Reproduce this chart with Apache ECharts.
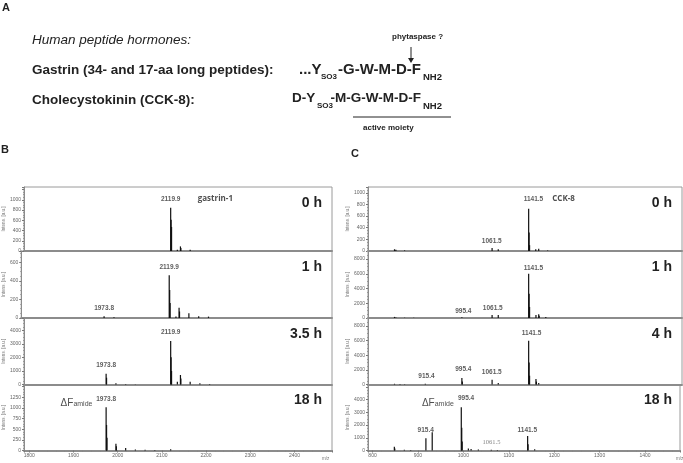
<!DOCTYPE html>
<html>
<head>
<meta charset="utf-8">
<script src="https://cdn.jsdelivr.net/npm/echarts@6/dist/echarts.min.js"></script>
<style>
html, body { margin: 0; background: #fff; }
#main { width: 683px; height: 463px; }
</style>
</head>
<body>
<div id="main"></div>
<script>
// peaks: [m/z, intensity a.u.]
const gastrin0h = [[2119.9, 843], [2120.9, 610], [2121.9, 470], [2135.0, 25], [2142.0, 90], [2143.0, 60], [2164.0, 22]];
const gastrin1h = [[1973.8, 20], [1996.0, 8], [2119.9, 460], [2120.9, 300], [2121.9, 160], [2135.0, 15], [2142.0, 110], [2143.0, 70], [2164.0, 50], [2186.0, 20], [2208.0, 15]];
const gastrin35h = [[1973.8, 800], [1974.8, 500], [1996.0, 100], [2018.0, 40], [2040.0, 20], [2119.9, 3200], [2120.9, 2000], [2121.9, 1000], [2135.0, 200], [2142.0, 700], [2143.0, 450], [2164.0, 200], [2186.0, 90], [2208.0, 40]];
const gastrin18h = [[1973.8, 1015], [1974.8, 600], [1975.8, 300], [1996.0, 160], [1997.0, 100], [2018.0, 60], [2040.0, 25], [2062.0, 15], [2084.0, 10], [2119.9, 30]];

const cck0h = [[848.0, 30], [851.0, 20], [870.0, 10], [1061.5, 50], [1075.0, 30], [1141.5, 727], [1142.5, 320], [1143.5, 100], [1157.0, 30], [1163.5, 40], [1183.0, 10]];
const cck1h = [[848.0, 150], [851.0, 80], [870.0, 40], [890.0, 30], [995.4, 100], [1061.5, 400], [1075.0, 400], [1141.5, 6000], [1142.5, 3300], [1143.5, 1500], [1157.5, 400], [1163.5, 500], [1164.5, 300], [1179.0, 150]];
const cck4h = [[848.0, 100], [860.0, 60], [870.0, 50], [915.4, 100], [995.4, 900], [996.4, 400], [1061.5, 650], [1075.0, 200], [1141.5, 6000], [1142.5, 3000], [1143.5, 1200], [1157.5, 750], [1158.5, 400], [1163.5, 200]];
const cck18h = [[848.0, 300], [849.0, 150], [870.0, 50], [884.0, 40], [917.5, 960], [931.4, 1435], [995.4, 3400], [996.4, 1800], [997.4, 700], [1011.0, 150], [1017.0, 120], [1033.0, 80], [1061.5, 60], [1075.0, 40], [1141.5, 1142], [1142.5, 500], [1157.0, 100]];

// peak annotations: [text, m/z, intensity level of the label]
const gastrin0hNotes = [['2119.9', 2119.9, 1016]];
const gastrin1hNotes = [['2119.9', 2119.9, 551], ['1973.8', 1973.8, 107]];
const gastrin35hNotes = [['2119.9', 2119.9, 3817], ['1973.8', 1973.8, 1437]];
const gastrin18hNotes = [['1973.8', 1973.8, 1203]];
const cck0hNotes = [['1141.5', 1152, 893], ['1061.5', 1060.7, 172]];
const cck1hNotes = [['1141.5', 1152, 6750], ['1061.5', 1063, 1318], ['995.4', 998.5, 856]];
const cck4hNotes = [['1141.5', 1148, 7000], ['995.4', 998.5, 2080], ['1061.5', 1060.7, 1750], ['915.4', 918, 1067]];
const cck18hNotes = [['995.4', 1006, 4130], ['915.4', 917, 1567], ['1141.5', 1140.7, 1567]];

const gastrinTimes = ['0 h', '1 h', '3.5 h', '18 h'];
const cckTimes = ['0 h', '1 h', '4 h', '18 h'];
const gastrinYMax = [1250, 720, 4900, 1550];
const gastrinYStep = [200, 200, 1000, 250];
const gastrinYTopLabel = [1000, 600, 4000, 1250];
const cckYMax = [1100, 9100, 9100, 5200];
const cckYStep = [200, 2000, 2000, 1000];
const cckYTopLabel = [1000, 8000, 8000, 4000];
const gastrinMzRange = [1788, 2485];
const cckMzRange = [790, 1477];

const rowTop = [187, 251, 318, 384.5];
const rowBottom = [251, 318, 384.5, 450.5];

const chart = echarts.init(document.getElementById('main'));

const grids = [], xAxes = [], yAxes = [], series = [], graphics = [];
const clear = 'rgba(0,0,0,0)';

function addPanel(left, width, peaks, notes, yMax, yStep, yTop, mzRange, row, timeText) {
  const i = grids.length;
  const last = row === 3;
  grids.push({
    left: left, top: rowTop[row], width: width, height: rowBottom[row] - rowTop[row],
    show: true, borderColor: '#9a9a9a', borderWidth: 1
  });
  xAxes.push({
    gridIndex: i, type: 'value', min: mzRange[0], max: mzRange[1], splitNumber: 7,
    axisLine: { show: true, onZero: false, lineStyle: { color: '#8c8c8c', width: 2 } },
    axisTick: { show: last, length: 2, lineStyle: { color: '#777' } },
    minorTick: { show: last, splitNumber: 5, length: 1.5, lineStyle: { color: '#888' } },
    axisLabel: {
      show: last, fontSize: 5, color: '#666', margin: 3, fontFamily: 'Liberation Sans',
      formatter: function (v) { return v % 100 === 0 ? String(v) : ''; }
    },
    splitLine: { show: false }
  });
  yAxes.push({
    gridIndex: i, type: 'value', min: 0, max: yMax, interval: yStep,
    axisLine: { show: true, lineStyle: { color: '#8c8c8c' } },
    axisTick: { show: true, length: 2, lineStyle: { color: '#777' } },
    minorTick: { show: true, splitNumber: 4, length: 1, lineStyle: { color: '#999' } },
    axisLabel: {
      fontSize: 5, color: '#666', margin: 3, fontFamily: 'Liberation Sans',
      formatter: function (v) { return v > yTop ? '' : String(v); }
    },
    splitLine: { show: false },
    name: 'Intens. [a.u.]', nameLocation: 'middle', nameGap: 14,
    nameTextStyle: { fontSize: 4.5, color: '#777', fontFamily: 'Liberation Sans' }
  });
  series.push({
    type: 'bar', xAxisIndex: i, yAxisIndex: i, barWidth: 1.2,
    itemStyle: { color: '#111' }, silent: true,
    data: peaks
  });
  series.push({
    type: 'scatter', xAxisIndex: i, yAxisIndex: i, symbolSize: 1,
    itemStyle: { color: clear }, silent: true,
    label: {
      show: true, position: 'inside', fontSize: 6.5, fontWeight: 'bold', color: '#333',
      fontFamily: 'Liberation Sans',
      formatter: function (p) { return p.value[2]; }
    },
    data: notes.map(function (n) { return [n[1], n[2], n[0]]; })
  });
  graphics.push({
    type: 'text', right: 683 - (left + width) + 10, top: rowTop[row] + 9,
    style: { text: timeText, font: 'bold 14px "Liberation Sans"', fill: '#222' }
  });
  return i;
}

for (let r = 0; r < 4; r++) {
  addPanel(19, 313, [gastrin0h, gastrin1h, gastrin35h, gastrin18h][r],
    [gastrin0hNotes, gastrin1hNotes, gastrin35hNotes, gastrin18hNotes][r],
    gastrinYMax[r], gastrinYStep[r], gastrinYTopLabel[r], gastrinMzRange, r, gastrinTimes[r]);
}
for (let r = 0; r < 4; r++) {
  addPanel(368, 314, [cck0h, cck1h, cck4h, cck18h][r],
    [cck0hNotes, cck1hNotes, cck4hNotes, cck18hNotes][r],
    cckYMax[r], cckYStep[r], cckYTopLabel[r], cckMzRange, r, cckTimes[r]);
}

// extra annotations with their own styling
function extraLabel(axisIdx, value, label) {
  series.push({
    type: 'scatter', xAxisIndex: axisIdx, yAxisIndex: axisIdx, symbolSize: 1,
    itemStyle: { color: clear }, silent: true,
    label: Object.assign({ show: true }, label),
    data: [value]
  });
}
const amideLabel = {
  position: 'left', distance: 0,
  formatter: '{a|ΔF}{b|amide}',
  rich: {
    a: { fontSize: 10, fontFamily: 'Liberation Sans', color: '#222' },
    b: { fontSize: 7, fontFamily: 'Liberation Sans', color: '#222', padding: [2, 0, 0, 0] }
  }
};
extraLabel(3, [1944, 1116], amideLabel);
extraLabel(7, [980, 3730], amideLabel);
extraLabel(0, [2180, 1016], {
  position: 'right', distance: 0, formatter: 'gastrin-1',
  fontSize: 8, fontWeight: 'bold', fontFamily: 'Open Sans', color: '#222'
});
extraLabel(4, [1192, 893], {
  position: 'right', distance: 0, formatter: 'CCK-8',
  fontSize: 8, fontWeight: 'bold', fontFamily: 'Open Sans', color: '#222'
});
extraLabel(7, [1062, 618], {
  position: 'inside', formatter: '1061.5',
  fontSize: 6.5, fontFamily: 'Liberation Serif', color: '#666'
});

// panel A and panel letters
const bold = 'bold 13.5px "Liberation Sans"';
const seqG = 'bold 15px "Liberation Sans"';
const seqC = 'bold 13.5px "Liberation Sans"';
const sub = 'bold 8px "Liberation Sans"';
const subN = 'bold 9.5px "Liberation Sans"';
graphics.push(
  { type: 'text', left: 2, top: 2, style: { text: 'A', font: 'bold 11px "Liberation Sans"', fill: '#222' } },
  { type: 'text', left: 1, top: 144, style: { text: 'B', font: 'bold 11px "Liberation Sans"', fill: '#222' } },
  { type: 'text', left: 351, top: 148, style: { text: 'C', font: 'bold 11px "Liberation Sans"', fill: '#222' } },
  { type: 'text', left: 32, top: 33, style: { text: 'Human peptide hormones:', font: 'italic 13.5px "Liberation Sans"', fill: '#222' } },
  { type: 'text', left: 32, top: 63, style: { text: 'Gastrin (34- and 17-aa long peptides):', font: bold, fill: '#222' } },
  { type: 'text', left: 32, top: 93, style: { text: 'Cholecystokinin (CCK-8):', font: bold, fill: '#222' } },
  { type: 'text', left: 392, top: 33, style: { text: 'phytaspase ?', font: 'bold 8px "Liberation Sans"', fill: '#222' } },
  { type: 'line', shape: { x1: 411, y1: 47, x2: 411, y2: 60 }, style: { stroke: '#222', lineWidth: 1 } },
  { type: 'polygon', shape: { points: [[408, 58], [414, 58], [411, 63]] }, style: { fill: '#222' } },
  { type: 'text', left: 299, top: 62, style: { text: '...Y', font: seqG, fill: '#222' } },
  { type: 'text', left: 321, top: 73, style: { text: 'SO3', font: sub, fill: '#222' } },
  { type: 'text', right: 683 - 421, top: 62, style: { text: '-G-W-M-D-F', font: seqG, fill: '#222' } },
  { type: 'text', left: 423, top: 72, style: { text: 'NH2', font: subN, fill: '#222' } },
  { type: 'text', left: 292, top: 91, style: { text: 'D-Y', font: seqC, fill: '#222' } },
  { type: 'text', left: 317, top: 102, style: { text: 'SO3', font: sub, fill: '#222' } },
  { type: 'text', right: 683 - 421, top: 91, style: { text: '-M-G-W-M-D-F', font: seqC, fill: '#222' } },
  { type: 'text', left: 423, top: 101, style: { text: 'NH2', font: subN, fill: '#222' } },
  { type: 'line', shape: { x1: 353, y1: 117, x2: 451, y2: 117 }, style: { stroke: '#222', lineWidth: 1 } },
  { type: 'text', left: 363, top: 124, style: { text: 'active moiety', font: 'bold 8px "Liberation Sans"', fill: '#222' } },
  { type: 'text', left: 322, top: 456, style: { text: 'm/z', font: '4.5px "Liberation Sans"', fill: '#777' } },
  { type: 'text', left: 676, top: 456, style: { text: 'm/z', font: '4.5px "Liberation Sans"', fill: '#777' } }
);

chart.setOption({
  animation: false,
  grid: grids,
  xAxis: xAxes,
  yAxis: yAxes,
  series: series,
  graphic: graphics
});
</script>
</body>
</html>
